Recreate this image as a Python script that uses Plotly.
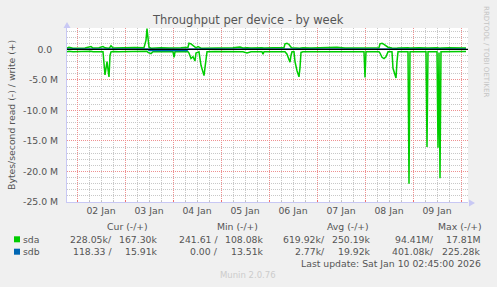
import plotly.graph_objects as go

# ---- data (MB/s) ----
times = [
    "2026-01-01 19:00", "2026-01-01 20:00", "2026-01-01 22:00", "2026-01-02 01:00",
    "2026-01-02 04:00", "2026-01-02 07:00", "2026-01-02 08:00", "2026-01-02 11:00",
    "2026-01-02 13:00", "2026-01-02 14:00", "2026-01-02 15:00", "2026-01-02 16:00",
    "2026-01-02 16:30", "2026-01-02 17:00", "2026-01-02 18:00", "2026-01-02 21:00",
    "2026-01-03 01:00", "2026-01-03 05:00", "2026-01-03 09:30", "2026-01-03 10:30",
    "2026-01-03 11:00", "2026-01-03 11:30", "2026-01-03 12:00", "2026-01-03 13:00",
    "2026-01-03 14:00", "2026-01-03 18:00", "2026-01-03 22:00", "2026-01-04 00:00",
    "2026-01-04 00:30", "2026-01-04 01:00", "2026-01-04 04:00", "2026-01-04 07:30",
    "2026-01-04 08:00", "2026-01-04 09:00", "2026-01-04 10:00", "2026-01-04 11:00",
    "2026-01-04 11:30", "2026-01-04 12:30", "2026-01-04 13:00", "2026-01-04 14:00",
    "2026-01-04 15:00", "2026-01-04 15:30", "2026-01-04 16:00", "2026-01-04 17:00",
    "2026-01-04 21:00", "2026-01-05 02:00", "2026-01-05 06:00", "2026-01-05 09:30",
    "2026-01-05 11:00", "2026-01-05 13:00", "2026-01-05 15:00", "2026-01-05 20:30",
    "2026-01-05 21:00", "2026-01-05 21:30", "2026-01-06 02:00", "2026-01-06 05:00",
    "2026-01-06 07:30", "2026-01-06 08:00", "2026-01-06 09:00", "2026-01-06 10:00",
    "2026-01-06 10:30", "2026-01-06 11:00", "2026-01-06 11:30", "2026-01-06 12:30",
    "2026-01-06 13:00", "2026-01-06 14:00", "2026-01-06 15:00", "2026-01-06 15:30",
    "2026-01-06 16:00", "2026-01-06 17:00", "2026-01-06 21:00", "2026-01-07 02:00",
    "2026-01-07 06:00", "2026-01-07 10:00", "2026-01-07 14:00", "2026-01-07 19:00",
    "2026-01-07 23:30", "2026-01-08 00:00", "2026-01-08 00:30", "2026-01-08 04:00",
    "2026-01-08 07:00", "2026-01-08 07:30", "2026-01-08 08:30", "2026-01-08 09:30",
    "2026-01-08 10:30", "2026-01-08 11:30", "2026-01-08 13:30", "2026-01-08 14:00",
    "2026-01-08 15:00", "2026-01-08 15:30", "2026-01-08 16:00", "2026-01-08 16:30",
    "2026-01-08 21:30", "2026-01-08 22:00", "2026-01-08 22:30", "2026-01-09 03:00",
    "2026-01-09 06:30", "2026-01-09 07:00", "2026-01-09 07:30", "2026-01-09 12:00",
    "2026-01-09 12:30", "2026-01-09 13:00", "2026-01-09 13:30", "2026-01-09 14:00",
    "2026-01-09 18:00", "2026-01-09 22:00", "2026-01-10 02:30",
]
sda_read = [
    0.40, 0.32, 0.40, 0.36, 0.40, 0.32, 0.40, 0.40,
    0.40, 4.20, 2.00, 4.50, 1.00, 0.40, 0.36, 0.40,
    0.40, 0.36, 0.40, 0.40, 0.32, 0.50, 0.60, 0.70,
    0.40, 0.40, 0.36, 0.40, 1.30, 0.40, 0.40, 0.40,
    0.60, 1.50, 1.20, 1.90, 0.60, 0.40, 0.40, 2.60,
    4.00, 4.30, 3.00, 0.40, 0.36, 0.40, 0.40, 0.40,
    0.40, 0.60, 0.40, 0.40, 0.80, 0.40, 0.40, 0.36,
    0.40, 0.40, 0.80, 1.60, 2.10, 1.00, 0.40, 0.40,
    2.00, 3.50, 4.50, 3.00, 0.50, 0.40, 0.40, 0.36,
    0.40, 0.40, 0.40, 0.36, 0.40, 4.60, 0.40, 0.40,
    0.40, 0.60, 1.30, 1.50, 1.20, 0.40, 0.40, 3.10,
    4.00, 4.70, 2.00, 0.40, 0.40, 22.00, 0.40, 0.40,
    0.40, 16.00, 0.40, 0.40, 16.10, 0.50, 21.10, 0.40,
    0.40, 0.36, 0.33,
]
sda_write = [
    0.22, 0.35, 0.18, 0.26, 0.22, 0.45, 0.22, 0.26,
    0.45, 0.26, 0.18, 0.18, 0.35, 0.60, 0.22, 0.26,
    0.22, 0.30, 0.26, 1.50, 3.40, 1.00, 0.35, 0.18,
    0.22, 0.26, 0.22, 0.22, 0.18, 0.22, 0.26, 0.35,
    1.00, 0.90, 0.60, 0.26, 0.26, 0.45, 0.35, 0.18,
    0.18, 0.18, 0.18, 0.22, 0.26, 0.22, 0.26, 0.40,
    0.22, 0.26, 0.22, 0.26, 0.18, 0.22, 0.26, 0.22,
    0.26, 0.90, 1.00, 0.80, 0.45, 0.35, 0.26, 0.22,
    0.18, 0.18, 0.18, 0.18, 0.22, 0.26, 0.22, 0.26,
    0.22, 0.35, 0.22, 0.26, 0.22, 0.18, 0.22, 0.26,
    0.26, 0.90, 1.00, 0.80, 0.60, 0.35, 0.22, 0.18,
    0.18, 0.18, 0.18, 0.22, 0.26, 0.18, 0.22, 0.26,
    0.22, 0.18, 0.22, 0.26, 0.18, 0.22, 0.18, 0.22,
    0.26, 0.22, 0.24,
]
sdb_times = ["2026-01-01 19:00", "2026-01-03 11:30", "2026-01-03 12:00",
             "2026-01-04 07:00", "2026-01-04 07:30", "2026-01-10 02:30"]
sdb_read = [0.003, 0.003, 0.18, 0.18, 0.003, 0.003]
sdb_write = [0.02, 0.02, 0.02, 0.02, 0.02, 0.02]

ytick_vals = [0, -5, -10, -15, -20, -25]
ytick_text = ["0.0\u00a0\u00a0", "-5.0 M", "-10.0 M", "-15.0 M", "-20.0 M", "-25.0 M"]

columns = ["Cur (-/+)", "Min (-/+)", "Avg (-/+)", "Max (-/+)"]
devices = ["sda", "sdb"]
dev_colors = ["#00CC00", "#0066B3"]
stats = [
    [("228.05k/", "167.30k"), ("241.61 /", "108.08k"), ("619.92k/", "250.19k"), ("94.41M/", "17.81M")],
    [("118.33 /", "15.91k"), ("0.00 /", "13.51k"), ("2.77k/", "19.92k"), ("401.08k/", "225.28k")],
]
last_update = "Last update: Sat Jan 10 02:45:00 2026"

# ---- layout geometry (pixels) ----
W, H = 497, 287
L, R, T, B = 67, 468, 28, 202
FONT = "DejaVu Sans"
TXT = "#555555"


def px(x):
    return (x - L) / (R - L)


def py(y):
    return (B - y) / (B - T)


fig = go.Figure()
fig.add_trace(go.Scatter(x=times, y=[-v for v in sda_read], mode="lines",
                         line=dict(color=dev_colors[0], width=1.5), hoverinfo="skip"))
fig.add_trace(go.Scatter(x=times, y=sda_write, mode="lines",
                         line=dict(color=dev_colors[0], width=1.5), hoverinfo="skip"))
fig.add_trace(go.Scatter(x=sdb_times, y=[-v for v in sdb_read], mode="lines",
                         line=dict(color=dev_colors[1], width=1.4), hoverinfo="skip"))
fig.add_trace(go.Scatter(x=sdb_times, y=sdb_write, mode="lines",
                         line=dict(color=dev_colors[1], width=1.4), hoverinfo="skip"))

ann = []
ann.append(dict(text="Throughput per device - by week", x=px(248), y=py(20.5),
                font=dict(size=11.5, color=TXT)))
ann.append(dict(text="Bytes/second read (-) / write (+)", x=px(11), y=py(115),
                textangle=-90, font=dict(size=9.3, color=TXT)))
ann.append(dict(text="RRDTOOL / TOBI OETIKER", x=px(487), y=py(51),
                textangle=90, font=dict(size=7.1, color="#C4C4C4")))
col_centers = [127, 237, 348, 460]
col_right = [(114, 160), (220, 266), (327, 373), (436, 483)]
for c, name in zip(col_centers, columns):
    ann.append(dict(text=name, x=px(c), y=py(226.7), font=dict(size=9.3, color=TXT)))
row_y = [239.3, 251.7]
for i, dev in enumerate(devices):
    ann.append(dict(text=dev, x=px(20.5), y=py(row_y[i]), xanchor="left",
                    font=dict(size=9.3, color=TXT)))
    for j, (a, b) in enumerate(stats[i]):
        ann.append(dict(text=a, x=px(col_right[j][0]), y=py(row_y[i]), xanchor="right",
                        font=dict(size=9.3, color=TXT)))
        ann.append(dict(text=b, x=px(col_right[j][1]), y=py(row_y[i]), xanchor="right",
                        font=dict(size=9.3, color=TXT)))
ann.append(dict(text=last_update, x=px(482.5), y=py(263.3), xanchor="right",
                font=dict(size=9.3, color=TXT)))
ann.append(dict(text="Munin 2.0.76", x=px(248), y=py(275), font=dict(size=8.5, color="#CCCCCC")))
for a in ann:
    a.setdefault("xanchor", "center")
    a.update(xref="paper", yref="paper", yanchor="middle", showarrow=False)

shapes = []
for i, col in enumerate(dev_colors):
    shapes.append(dict(type="rect", xref="paper", yref="paper",
                       x0=px(14), x1=px(20), y0=py(row_y[i] - 3), y1=py(row_y[i] + 3),
                       fillcolor=col, line=dict(width=0)))
# zero line
shapes.append(dict(type="line", xref="paper", yref="y", x0=0, x1=1, y0=0, y1=0,
                   line=dict(color="#000000", width=1.1), layer="above"))
# axis arrows
shapes.append(dict(type="path", xref="paper", yref="paper",
                   path=f"M {px(469)} {py(199.5)} L {px(475)} {py(203)} L {px(469)} {py(206.5)} Z",
                   fillcolor="#C8C8F4", line=dict(width=0)))
shapes.append(dict(type="path", xref="paper", yref="paper",
                   path=f"M {px(63.5)} {py(28)} L {px(67)} {py(22)} L {px(70.5)} {py(28)} Z",
                   fillcolor="#C8C8F4", line=dict(width=0)))

fig.update_layout(
    width=W, height=H,
    margin=dict(l=L, r=W - R, t=T, b=H - B, pad=0),
    paper_bgcolor="#F0F0F0", plot_bgcolor="#FFFFFF",
    showlegend=False,
    font=dict(family=FONT, color=TXT, size=9.3),
    annotations=ann, shapes=shapes,
    xaxis=dict(
        type="date", range=["2026-01-01 19:00", "2026-01-10 03:30"],
        dtick=86400000, tick0="2026-01-02", tickformat="%d %b", ticklabelmode="period",
        showgrid=True, gridcolor="#EE9090", griddash="1px,1px", gridwidth=1,
        ticks="inside", ticklen=2, tickcolor="#F07070",
        minor=dict(dtick=6 * 3600000, showgrid=True, gridcolor="#C8C8C8",
                   griddash="1px,1px", ticks="inside", ticklen=1, tickcolor="#C0C0C0"),
        showline=True, linecolor="#C8C8F4", linewidth=1,
        zeroline=False, tickfont=dict(size=9.3, color=TXT), fixedrange=True,
    ),
    yaxis=dict(
        range=[-25, 3.5], tickvals=ytick_vals, ticktext=ytick_text,
        showgrid=True, gridcolor="#EE9090", griddash="1px,1px", gridwidth=1,
        minor=dict(dtick=1, showgrid=True, gridcolor="#C8C8C8", griddash="1px,1px"),
        showline=True, linecolor="#C8C8F4", linewidth=1,
        zeroline=False, ticks="", ticklabelstandoff=6,
        tickfont=dict(size=9.3, color=TXT), fixedrange=True,
    ),
)

fig.write_html("out.html", config={"displayModeBar": False})
